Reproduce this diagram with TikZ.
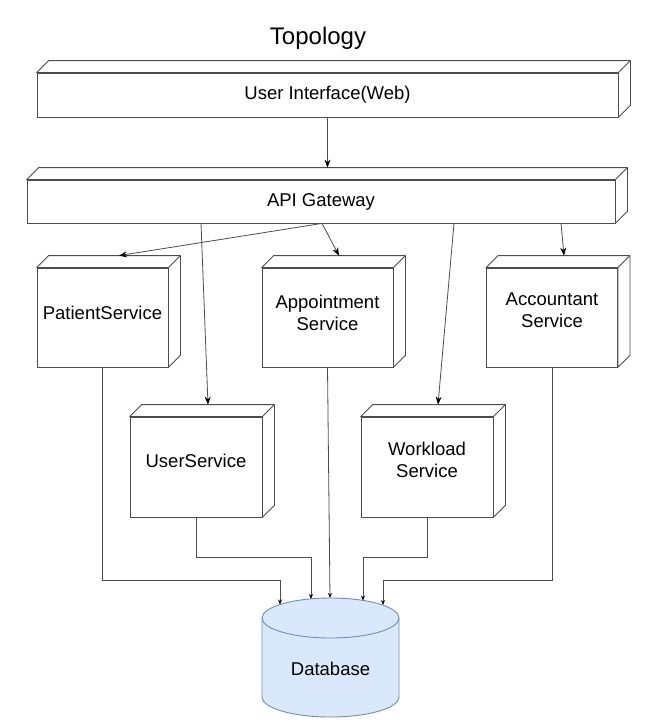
\documentclass[tikz,border=0pt]{standalone}
\usepackage{fontspec}
\setmainfont{Liberation Sans}
\usetikzlibrary{arrows.meta,calc}
\newcommand\threedee[1]{%
  \draw[edge3d, fill=white] (#1.north west) -- ++(12,-12) -- ([shift={(12,-12)}]#1.north east)
     -- ([shift={(12,-12)}]#1.south east) -- (#1.south east) -- (#1.north east) -- cycle;
  \draw[edge3d] (#1.north east) -- ++(12,-12);}
\begin{document}
\begin{tikzpicture}[x=1pt,y=-1pt,
  face/.style={draw=black!70, fill=white, line width=0.8pt, inner sep=0pt},
  edge3d/.style={draw=black!70, line width=0.8pt, line join=round},
  lbl/.style={font=\fontsize{18.5}{22}\selectfont, align=center, inner sep=0pt},
  arr/.style={draw=black!70, line width=0.8pt, -{Stealth[length=8pt,width=6pt,color=black]}},
  arrs/.style={draw=black!70, line width=0.8pt, -{Stealth[length=5pt,width=4pt,color=black]}}]
\fill[white] (0,0) rectangle (656,723);
\useasboundingbox (0,0) rectangle (656,723);

\node[font=\fontsize{24}{28}\selectfont, inner sep=0pt] (title) at (318,38) {Topology};

% boxes
\node[face, minimum width=581pt, minimum height=44pt] (ui) at (327.5,95) {};
\threedee{ui}
\node[lbl] (uit) at (ui.center) {User Interface(Web)};

\node[face, minimum width=588pt, minimum height=43pt] (api) at (321,201.5) {};
\threedee{api}
\node[lbl] (apit) at (api.center) {API Gateway};

\node[face, minimum width=131pt, minimum height=99pt] (ps) at (102.5,317.5) {};
\threedee{ps}
\node[lbl] (pst) at ([yshift=4.5pt]ps.center) {PatientService};

\node[face, minimum width=131pt, minimum height=99pt] (as) at (327.5,317.5) {};
\threedee{as}
\node[lbl] (ast) at ([yshift=4.5pt]as.center) {Appointment\\Service};

\node[face, minimum width=131pt, minimum height=99pt] (acc) at (552,317.5) {};
\threedee{acc}
\node[lbl] (acct) at ([yshift=7pt]acc.center) {Accountant\\Service};

\node[face, minimum width=132pt, minimum height=100pt] (us) at (196,467) {};
\threedee{us}
\node[lbl] (ust) at ([yshift=6pt]us.center) {UserService};

\node[face, minimum width=132pt, minimum height=100pt] (ws) at (427,467) {};
\threedee{ws}
\node[lbl] (wst) at ([yshift=7pt]ws.center) {Workload\\Service};

% database cylinder
\filldraw[fill={rgb,255:red,218;green,232;blue,252}, draw={rgb,255:red,108;green,142;blue,191}, line width=0.9pt]
  (262,618) -- (262,697) arc[start angle=180, end angle=360, x radius=68.5pt, y radius=20pt]
  -- (399,618) arc[start angle=0, end angle=180, x radius=68.5pt, y radius=20pt] -- cycle;
\draw[draw={rgb,255:red,108;green,142;blue,191}, line width=0.9pt]
  (262,618) arc[start angle=180, end angle=360, x radius=68.5pt, y radius=20pt];
\node[lbl] (db) at (330.5,669) {Database};
\coordinate (d1) at (280,604.5);
\coordinate (d2) at (311,599);
\coordinate (d3) at (330,598);
\coordinate (d4) at (363,600.5);
\coordinate (d5) at (383,605);

% connectors
\draw[arr] (ui.south) -- ([shift={(6.5,-12)}]api.north);
\draw[arr] ([xshift=1pt]api.south) -- ([shift={(16.5,-12)}]ps.north);
\draw[arr] ([xshift=1pt]api.south) -- ([shift={(11.5,-12)}]as.north);
\draw[arr] ([xshift=-120pt]api.south) -- ([shift={(12,-12)}]us.north);
\draw[arr] ([xshift=133pt]api.south) -- ([shift={(11,-12)}]ws.north);
\draw[arr] ([xshift=240pt]api.south) -- ([shift={(12,-12)}]acc.north);

\draw[arrs] (ps.south) |- (280,580) -- (d1);
\draw[arrs] (us.south) |- (311,557) -- (d2);
\draw[arrs] (as.south) -- (d3);
\draw[arrs] (ws.south) |- (363,557) -- (d4);
\draw[arrs] (acc.south) |- (383,580) -- (d5);
\end{tikzpicture}
\end{document}
